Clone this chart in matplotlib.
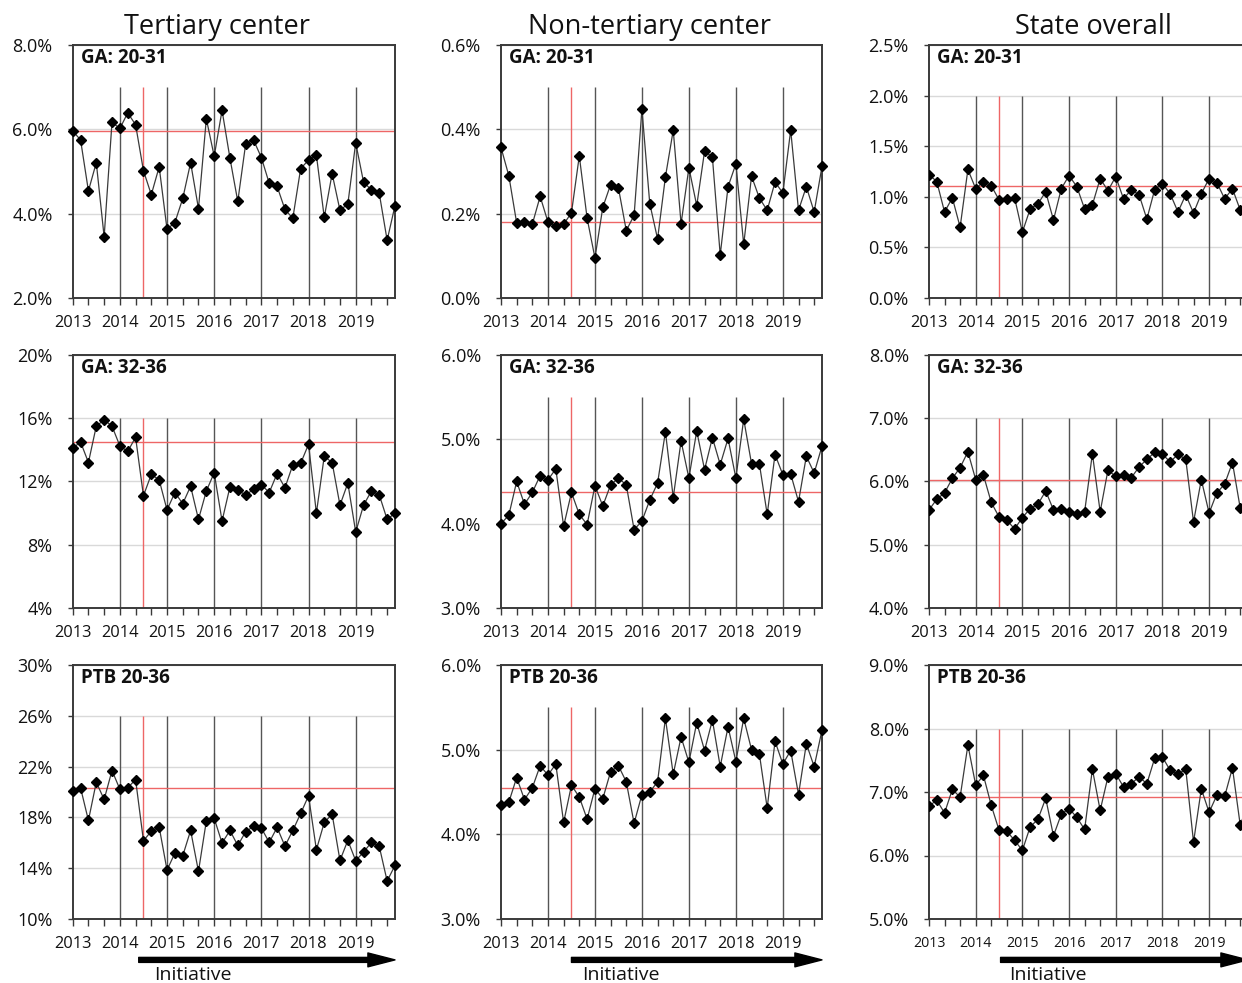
import matplotlib
matplotlib.use("Agg")
import matplotlib.pyplot as plt
from matplotlib.ticker import FuncFormatter, FixedLocator

plt.rcParams['font.family'] = ['Open Sans', 'DejaVu Sans']

# ---------------- data ----------------
year_labels = ['2013', '2014', '2015', '2016', '2017', '2018', '2019']
col_titles = ['Tertiary center', 'Non-tertiary center', 'State overall']
row_labels = ['GA: 20-31', 'GA: 32-36', 'PTB 20-36']

# bi-monthly rates (%), 2013 .. late 2019 (42 points)
tert_ga2031 = [5.96, 5.75, 4.54, 5.21, 3.45, 6.17, 6.02, 6.39, 6.11, 5.02,
               4.45, 5.11, 3.63, 3.79, 4.36, 5.21, 4.12, 6.25, 5.36, 6.45,
               5.32, 4.29, 5.65, 5.75, 5.33, 4.72, 4.65, 4.10, 3.89, 5.07,
               5.27, 5.39, 3.91, 4.95, 4.08, 4.23, 5.68, 4.75, 4.56, 4.48,
               3.37, 4.19]
nont_ga2031 = [0.357, 0.290, 0.178, 0.181, 0.175, 0.241, 0.180, 0.170, 0.175, 0.202,
               0.337, 0.189, 0.095, 0.215, 0.269, 0.261, 0.160, 0.196, 0.448, 0.224,
               0.140, 0.287, 0.398, 0.176, 0.309, 0.219, 0.348, 0.334, 0.102, 0.264,
               0.318, 0.127, 0.289, 0.237, 0.208, 0.275, 0.249, 0.398, 0.208, 0.264,
               0.204, 0.312]
state_ga2031 = [1.22, 1.15, 0.85, 0.99, 0.70, 1.27, 1.08, 1.15, 1.11, 0.97,
                0.98, 0.99, 0.65, 0.88, 0.93, 1.05, 0.77, 1.08, 1.21, 1.10,
                0.88, 0.92, 1.18, 1.06, 1.20, 0.98, 1.07, 1.02, 0.78, 1.07,
                1.13, 1.03, 0.85, 1.02, 0.84, 1.03, 1.18, 1.14, 0.98, 1.08,
                0.87, 0.95]

tert_ga3236 = [14.1, 14.5, 13.2, 15.5, 15.9, 15.5, 14.25, 13.9, 14.8, 11.1,
               12.45, 12.1, 10.2, 11.3, 10.6, 11.7, 9.6, 11.4, 12.55, 9.5,
               11.65, 11.45, 11.15, 11.5, 11.8, 11.3, 12.5, 11.6, 13.05, 13.15,
               14.35, 10.0, 13.6, 13.2, 10.5, 11.9, 8.8, 10.5, 11.4, 11.15,
               9.6, 10.0]
nont_ga3236 = [4.00, 4.10, 4.50, 4.23, 4.37, 4.57, 4.52, 4.65, 3.97, 4.37,
               4.11, 3.99, 4.45, 4.21, 4.46, 4.54, 4.46, 3.93, 4.03, 4.28,
               4.48, 5.09, 4.31, 4.98, 4.54, 5.10, 4.64, 5.02, 4.70, 5.01,
               4.54, 5.24, 4.71, 4.71, 4.11, 4.82, 4.58, 4.59, 4.26, 4.80,
               4.60, 4.92]
state_ga3236 = [5.55, 5.72, 5.82, 6.05, 6.22, 6.47, 6.03, 6.10, 5.67, 5.44,
                5.39, 5.25, 5.43, 5.57, 5.64, 5.85, 5.55, 5.56, 5.52, 5.48,
                5.52, 6.44, 5.52, 6.18, 6.08, 6.11, 6.06, 6.23, 6.35, 6.46,
                6.43, 6.31, 6.43, 6.35, 5.36, 6.03, 5.50, 5.82, 5.96, 6.30,
                5.58, 5.80]

tert_ptb = [20.07, 20.33, 17.76, 20.77, 19.41, 21.69, 20.22, 20.33, 20.98, 16.16,
            16.92, 17.24, 13.85, 15.19, 14.98, 16.97, 13.75, 17.72, 17.93, 15.98,
            16.97, 15.79, 16.87, 17.29, 17.16, 16.03, 17.21, 15.74, 16.97, 18.31,
            19.70, 15.45, 17.60, 18.26, 14.61, 16.19, 14.59, 15.27, 16.03, 15.71,
            12.99, 14.22]
nont_ptb = [4.35, 4.38, 4.67, 4.41, 4.55, 4.81, 4.70, 4.83, 4.14, 4.58,
            4.44, 4.18, 4.54, 4.42, 4.74, 4.81, 4.62, 4.13, 4.47, 4.50,
            4.62, 5.37, 4.71, 5.15, 4.85, 5.32, 4.99, 5.35, 4.80, 5.27,
            4.86, 5.37, 5.00, 4.95, 4.31, 5.10, 4.83, 4.99, 4.47, 5.07,
            4.80, 5.23]
state_ptb = [6.78, 6.87, 6.67, 7.04, 6.92, 7.74, 7.11, 7.26, 6.79, 6.40,
             6.38, 6.24, 6.08, 6.45, 6.57, 6.90, 6.31, 6.65, 6.74, 6.60,
             6.41, 7.36, 6.71, 7.24, 7.29, 7.08, 7.13, 7.24, 7.13, 7.53,
             7.55, 7.34, 7.28, 7.36, 6.21, 7.05, 6.68, 6.95, 6.93, 7.38,
             6.48, 6.80]

series = [[tert_ga2031, nont_ga2031, state_ga2031],
          [tert_ga3236, nont_ga3236, state_ga3236],
          [tert_ptb, nont_ptb, state_ptb]]

# pre-initiative reference level (red horizontal line)
reference = [[5.96, 0.180, 1.11],
             [14.5, 4.37, 6.02],
             [20.28, 4.55, 6.92]]

initiative_start = 9   # index of initiative start (mid-2014)

# ---------------- axis settings ----------------
ylims = [[(2, 8), (0, 0.6), (0, 2.5)],
         [(4, 20), (3, 6), (4, 8)],
         [(10, 30), (3, 6), (5, 9)]]
yticks = [[[2, 4, 6, 8], [0, 0.2, 0.4, 0.6], [0, 0.5, 1.0, 1.5, 2.0, 2.5]],
          [[4, 8, 12, 16, 20], [3, 4, 5, 6], [4, 5, 6, 7, 8]],
          [[10, 14, 18, 22, 26, 30], [3, 4, 5, 6], [5, 6, 7, 8, 9]]]
ydec = [[1, 1, 1], [0, 1, 1], [0, 1, 1]]
vline_top = [[7.0, 0.5, 2.0], [16, 5.5, 7.0], [26, 5.5, 8.0]]

W, H = 1242, 983
fig = plt.figure(figsize=(W / 100, H / 100), dpi=100)

col_left = [72.7, 501, 929]
col_width = [322.3, 321, 319]
row_top = [45, 355, 665]
row_height = [253, 253, 254]
title_x = [217, 650, 1093]

spine_col = '#3a3a3a'
text_col = '#111111'
red = '#ee6666'
n = len(tert_ga2031)
xs = list(range(n))

for r in range(3):
    for c in range(3):
        ax = fig.add_axes([col_left[c] / W, 1 - (row_top[r] + row_height[r]) / H,
                           col_width[c] / W, row_height[r] / H])
        y0, y1 = ylims[r][c]
        ax.set_xlim(0, n - 1)
        ax.set_ylim(y0, y1)
        ax.yaxis.set_major_locator(FixedLocator(yticks[r][c]))
        d = ydec[r][c]
        ax.yaxis.set_major_formatter(FuncFormatter(lambda v, p, d=d: f"{v:.{d}f}%"))
        ax.grid(axis='y', color='#d9d9d9', lw=1.0, zorder=0)
        ax.set_axisbelow(True)

        # year separators and initiative line
        ax.vlines(range(6, n, 6), y0, vline_top[r][c], color='#555555', lw=1.0, zorder=1)
        ax.vlines([initiative_start], y0, vline_top[r][c], color=red, lw=1.0, zorder=1)
        ax.axhline(reference[r][c], color=red, lw=1.0, zorder=1)

        ax.plot(xs, series[r][c], color='#3a3a3a', lw=0.9, marker='D',
                markersize=4.6, markerfacecolor='black', markeredgecolor='black',
                zorder=3, clip_on=(c == 2))

        ax.set_xticks(range(0, n, 2))
        xl = []
        for i in range(0, n, 2):
            xl.append(year_labels[i // 6] if i % 6 == 0 else '')
        ax.set_xticklabels(xl)
        xfs = 10.2 if (r == 2 and c == 2) else 11.8
        ax.tick_params(axis='x', direction='out', length=5, width=1, color=spine_col,
                       labelsize=xfs, pad=7, labelcolor=text_col)
        ax.tick_params(axis='y', direction='out', length=3.5, width=1, color=spine_col,
                       labelsize=13, pad=11, labelcolor=text_col)
        for s in ax.spines.values():
            s.set_color(spine_col)
            s.set_linewidth(1.4)

        ax.annotate(row_labels[r], xy=(0, 1), xycoords='axes fraction',
                    xytext=(6, -2), textcoords='offset points',
                    ha='left', va='top', fontsize=13.5, fontweight='bold', color=text_col)

        if r == 2:
            tr = ax.get_xaxis_transform()
            starts = [8.4, 9.0, 9.2]
            ax.annotate('', xy=(n - 1, -0.161), xytext=(starts[c], -0.161),
                        xycoords=tr, textcoords=tr, annotation_clip=False,
                        arrowprops=dict(arrowstyle='simple,head_length=1.95,head_width=1.0,tail_width=0.36',
                                        mutation_scale=10, color='black', shrinkA=0, shrinkB=0))
            ax.text(10.3, -0.222, 'Initiative', transform=tr, ha='left', va='center',
                    fontsize=14, color=text_col)

for c in range(3):
    fig.text(title_x[c] / W, 1 - 27 / H, col_titles[c], ha='center', va='center',
             fontsize=19.5, color=text_col)

fig.savefig('out.png', dpi=100)
